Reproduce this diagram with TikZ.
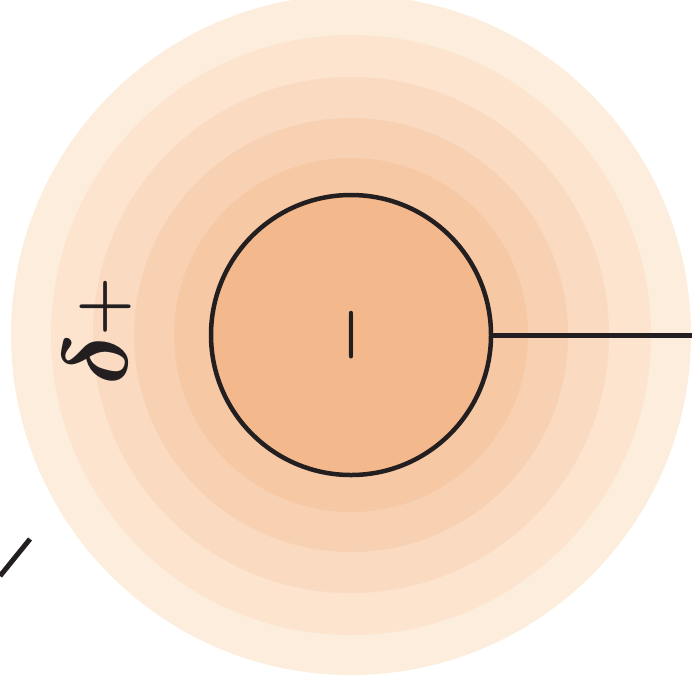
\RequirePackage{fix-cm}
\documentclass[tikz,border=0pt]{standalone}
\definecolor{ringA}{HTML}{FDEDDC}
\definecolor{ringB}{HTML}{FCE4CE}
\definecolor{ringC}{HTML}{FADAC0}
\definecolor{ringD}{HTML}{F8D1B2}
\definecolor{ringE}{HTML}{F6C8A4}
\definecolor{coreC}{HTML}{F3B88B}
\definecolor{inkC}{HTML}{231F20}
\begin{document}
\begin{tikzpicture}[x=1pt,y=-1pt,
  ink/.style={draw=inkC,line width=5pt},
  lbl/.style={text=inkC,inner sep=0pt,font=\fontsize{68}{68}\selectfont\boldmath}]
\useasboundingbox (0,0) rectangle (692,689);
\begin{scope}
\clip (0,0) rectangle (692,689);
\coordinate (c) at (351,335);
\fill[ringA] (c) circle (340pt);
\fill[ringB] (c) circle (300pt);
\fill[ringC] (c) circle (258pt);
\fill[ringD] (c) circle (217pt);
\fill[ringE] (c) circle (177pt);
\end{scope}
\node[circle,ink,line width=4.5pt,fill=coreC,minimum size=280pt,inner sep=0pt] (core) at (c) {};
\node[lbl,rotate=90] (minus) at (c) {$-$};
\node[lbl,rotate=90] (delta) at (97,331) {{\fontsize{92}{92}\selectfont$\delta$}\kern-3pt\raisebox{5pt}{$+$}};
\coordinate (rightend) at (692,335);
\draw[ink] (core.east) -- (rightend);
\coordinate (bl1) at (0,576);
\coordinate (bl2) at (30,539);
\draw[ink] (bl1) -- (bl2);
\end{tikzpicture}
\end{document}
